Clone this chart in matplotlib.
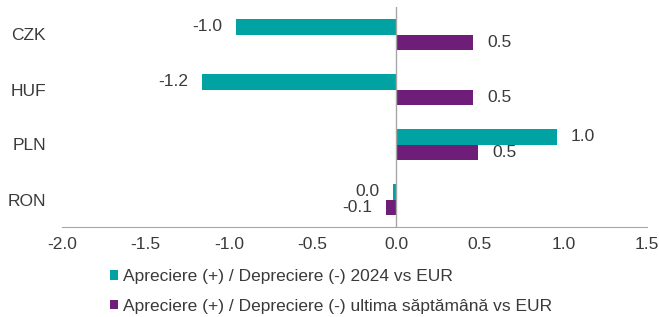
import numpy as np
import matplotlib.pyplot as plt

plt.rcParams['font.family'] = ['Liberation Sans', 'DejaVu Sans']

# Data
currencies = ['CZK', 'HUF', 'PLN', 'RON']
ytd_2024 = [-0.96, -1.16, 0.96, -0.02]
last_week = [0.46, 0.46, 0.49, -0.06]
ytd_labels = ['-1.0', '-1.2', '1.0', '0.0']
week_labels = ['0.5', '0.5', '0.5', '-0.1']
series_names = ['Apreciere (+) / Depreciere (-) 2024 vs EUR',
                'Apreciere (+) / Depreciere (-) ultima săptămână vs EUR']

teal = '#00A3A1'
purple = '#6E1E78'
txt = '#3A3A3A'
fs = 12.5

fig = plt.figure(figsize=(6.59, 3.17), dpi=100)
ax = fig.add_axes([62 / 659, 1 - 227 / 317, (647 - 62) / 659, 220 / 317])

y = np.arange(len(currencies))
h = 0.29
b1 = ax.barh(y - h / 2, ytd_2024, height=h, color=teal, label=series_names[0])
b2 = ax.barh(y + h / 2, last_week, height=h, color=purple, label=series_names[1])

# data labels
for bars, labels in [(b1, ytd_labels), (b2, week_labels)]:
    for bar, lab in zip(bars, labels):
        v = bar.get_width()
        yc = bar.get_y() + bar.get_height() / 2
        if v < 0:
            ax.annotate(lab, (v, yc), xytext=(-10, 0), textcoords='offset points',
                        ha='right', va='center', fontsize=fs, color=txt)
        else:
            ax.annotate(lab, (v, yc), xytext=(10, 0), textcoords='offset points',
                        ha='left', va='center', fontsize=fs, color=txt)

ax.set_xlim(-2.0, 1.5)
ax.set_ylim(3.5, -0.5)
ax.set_xticks(np.arange(-2.0, 1.51, 0.5))
ax.set_xticklabels([f'{t:.1f}' for t in np.arange(-2.0, 1.51, 0.5)])
ax.set_yticks(y)
ax.set_yticklabels(currencies)
ax.tick_params(axis='both', length=0, labelsize=fs, labelcolor=txt)
ax.tick_params(axis='x', pad=7)
ax.tick_params(axis='y', pad=11.5)

ax.axvline(0, color='#A6A6A6', lw=1)
for s in ['top', 'right', 'left']:
    ax.spines[s].set_visible(False)
ax.spines['bottom'].set_color('#A6A6A6')

fig.legend(handles=[b1, b2], loc='upper left', bbox_to_anchor=(110 / 659, 1 - 269 / 317),
           frameon=False, fontsize=fs, handlelength=0.46, handleheight=0.46,
           handletextpad=0.3, labelspacing=0.85, borderaxespad=0, borderpad=0,
           labelcolor=txt)

fig.savefig('out.png', dpi=100)
